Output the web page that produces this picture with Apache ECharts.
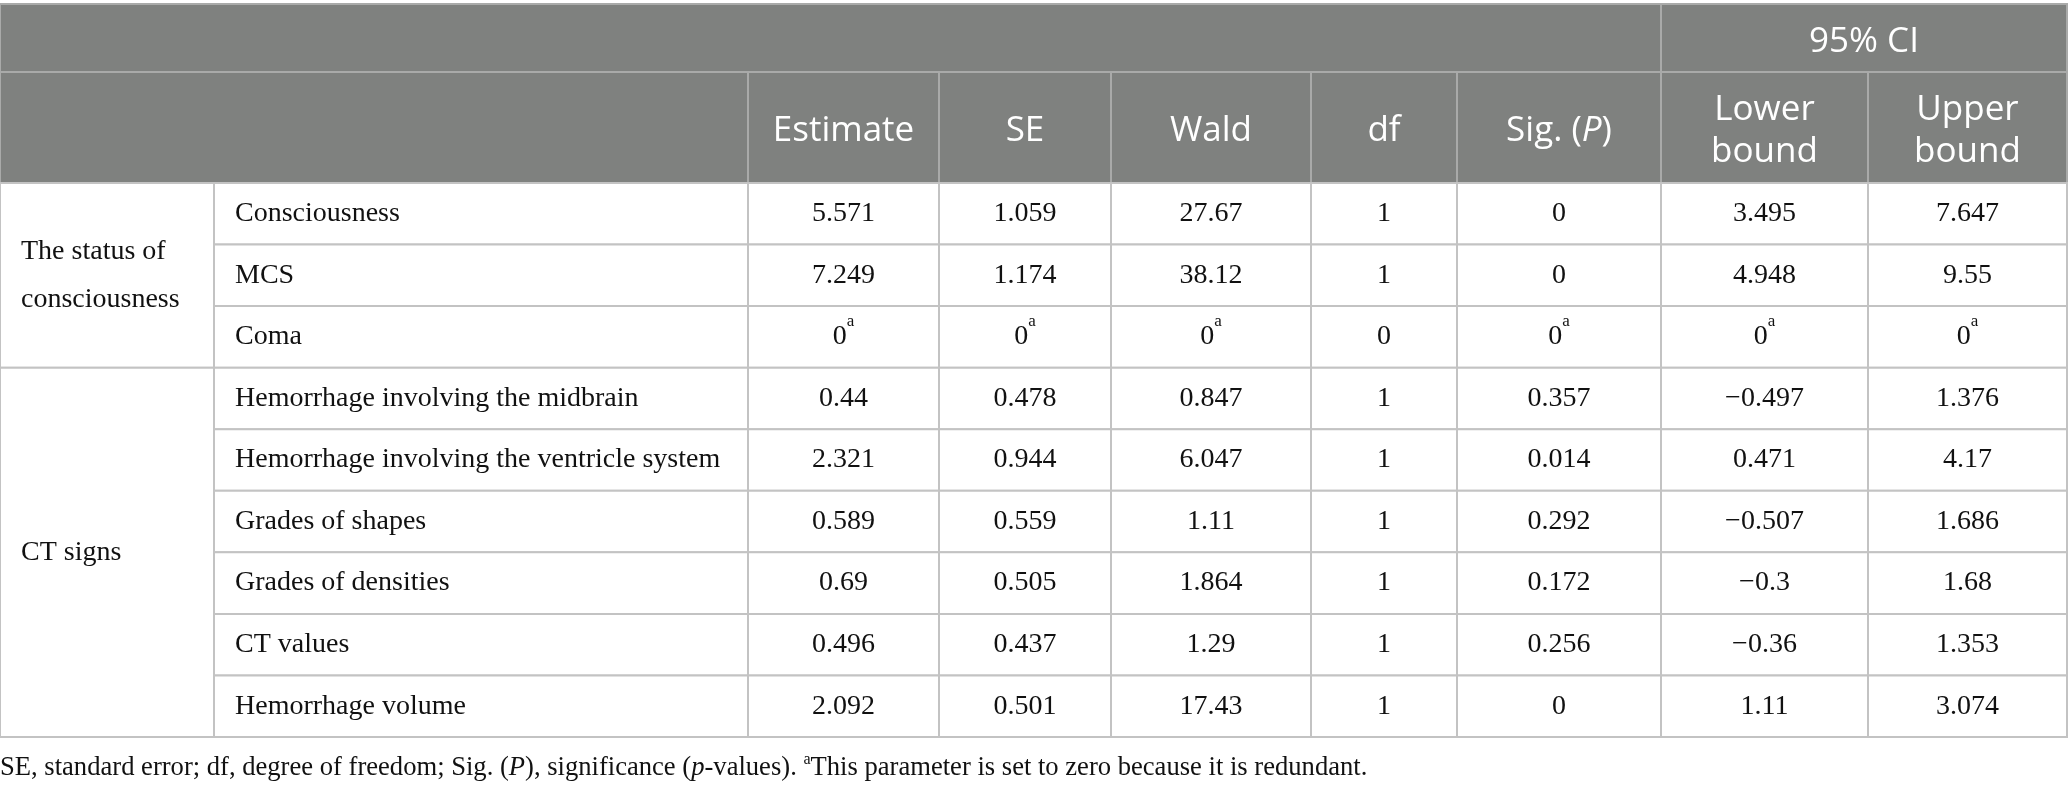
<!DOCTYPE html>
<html>
<head>
<meta charset="utf-8">
<title>Parameter estimates</title>
<script src="https://cdn.jsdelivr.net/npm/echarts@6/dist/echarts.min.js"></script>
<style>
  html, body { margin: 0; padding: 0; background: #fff; }
  #chart { width: 2068px; height: 790px; }
</style>
</head>
<body>
<div id="chart"></div>
<script>
/* Table of parameter estimates, drawn with a custom series on hidden value axes. */

// ── data ──
var columnLabels = ['Estimate', 'SE', 'Wald', 'df', 'Sig. ({hi|P})', 'Lower\nbound', 'Upper\nbound'];
var ciLabel = '95% CI';
var groupNames = ['The status of\nconsciousness', 'CT signs'];
var groupSizes = [3, 6];
var variables = [
  'Consciousness', 'MCS', 'Coma',
  'Hemorrhage involving the midbrain', 'Hemorrhage involving the ventricle system',
  'Grades of shapes', 'Grades of densities', 'CT values', 'Hemorrhage volume'
];
var estimate = [5.571, 7.249, 0, 0.44, 2.321, 0.589, 0.69, 0.496, 2.092];
var se       = [1.059, 1.174, 0, 0.478, 0.944, 0.559, 0.505, 0.437, 0.501];
var wald     = [27.67, 38.12, 0, 0.847, 6.047, 1.11, 1.864, 1.29, 17.43];
var df       = [1, 1, 0, 1, 1, 1, 1, 1, 1];
var sig      = [0, 0, 0, 0.357, 0.014, 0.292, 0.172, 0.256, 0];
var lower    = [3.495, 4.948, 0, -0.497, 0.471, -0.507, -0.3, -0.36, 1.11];
var upper    = [7.647, 9.55, 0, 1.376, 4.17, 1.686, 1.68, 1.353, 3.074];
// rows whose parameter is set to zero (footnote a); df is not marked
var redundant = [false, false, true, false, false, false, false, false, false];

// ── layout ──
var W = 2068, H = 790;
var colEdges = [0, 214, 748, 939, 1111, 1311, 1457, 1661, 1868, 2067];
var headerTop = 4, headerMid = 72, headerBottom = 183, rowHeight = 61.56;
var rowEdges = [headerTop, headerMid, headerBottom];
variables.forEach(function (v, i) { rowEdges.push(headerBottom + rowHeight * (i + 1)); });

var HEAD_BG = '#7f817f', HEAD_LINE = '#a9aaa9', BODY_LINE = '#c3c3c3', TEXT = '#111';
var SANS = '"Open Sans", "Noto Sans", sans-serif';
var SERIF = '"Liberation Serif", "DejaVu Serif", serif';

function fmt(v) {
  return v < 0 ? '\u2212' + String(-v) : String(v);
}

// ── cells: [col0, row0, col1, row1] in grid indices ──
var cells = [];
cells.push({ value: [0, 0, 7, 1], role: 'head', text: '' });
cells.push({ value: [7, 0, 9, 1], role: 'head', text: ciLabel });
cells.push({ value: [0, 1, 2, 2], role: 'head', text: '' });
columnLabels.forEach(function (label, i) {
  cells.push({ value: [i + 2, 1, i + 3, 2], role: 'head', text: label });
});
var start = 0;
groupNames.forEach(function (g, gi) {
  cells.push({ value: [0, start + 2, 1, start + 2 + groupSizes[gi]], role: 'left', text: g });
  start += groupSizes[gi];
});
var valueCols = [estimate, se, wald, df, sig, lower, upper];
variables.forEach(function (name, r) {
  cells.push({ value: [1, r + 2, 2, r + 3], role: 'left', text: name });
  valueCols.forEach(function (arr, c) {
    var txt = fmt(arr[r]);
    if (redundant[r] && arr !== df) { txt = txt + '{sup|a}'; }
    cells.push({ value: [c + 2, r + 2, c + 3, r + 3], role: 'num', text: txt });
  });
});

function renderCell(params, api) {
  var cell = cells[params.dataIndex];
  var p0 = api.coord([colEdges[api.value(0)], rowEdges[api.value(1)]]);
  var p1 = api.coord([colEdges[api.value(2)], rowEdges[api.value(3)]]);
  var x = p0[0], y = p0[1], w = p1[0] - p0[0], h = p1[1] - p0[1];
  var head = cell.role === 'head';
  var children = [{
    type: 'rect',
    shape: { x: x, y: y, width: w, height: h },
    style: { fill: head ? HEAD_BG : '#fff', stroke: head ? HEAD_LINE : BODY_LINE, lineWidth: 2 }
  }];
  if (cell.text) {
    var left = cell.role === 'left';
    children.push({
      type: 'text',
      style: {
        text: cell.text,
        x: left ? x + 21 : x + w / 2,
        y: y + h / 2 + (head ? 4 : 0),
        align: left ? 'left' : 'center',
        verticalAlign: 'middle',
        fill: head ? '#fff' : TEXT,
        fontFamily: head ? SANS : SERIF,
        fontSize: head ? 35 : 28,
        lineHeight: head ? 42 : 48,
        rich: {
          hi: { fontFamily: SANS, fontSize: 35, fontStyle: 'italic', fill: '#fff', lineHeight: 42 },
          sup: { fontFamily: SERIF, fontSize: 17, fill: TEXT, verticalAlign: 'top', lineHeight: 40 }
        }
      }
    });
  }
  return { type: 'group', children: children };
}

var chart = echarts.init(document.getElementById('chart'), null, { renderer: 'canvas' });
chart.setOption({
  animation: false,
  title: {
    left: 0,
    top: 752,
    padding: 0,
    text: '{n|SE, standard error; df, degree of freedom; Sig. (}{i|P}{n|), significance (}{i|p}{n|-values). }{s|a}{n|This parameter is set to zero because it is redundant.}',
    textStyle: {
      fontWeight: 'normal',
      rich: {
        n: { fontFamily: SERIF, fontSize: 26.6, fontWeight: 'normal', color: TEXT, lineHeight: 32 },
        i: { fontFamily: SERIF, fontSize: 26.6, fontWeight: 'normal', fontStyle: 'italic', color: TEXT, lineHeight: 32 },
        s: { fontFamily: SERIF, fontSize: 16, fontWeight: 'normal', color: TEXT, verticalAlign: 'top', lineHeight: 28 }
      }
    }
  },
  grid: { left: 0, right: 0, top: 0, bottom: 0 },
  xAxis: { type: 'value', min: 0, max: W, show: false },
  yAxis: { type: 'value', min: 0, max: H, inverse: true, show: false },
  series: [{
    type: 'custom',
    coordinateSystem: 'cartesian2d',
    renderItem: renderCell,
    clip: false,
    data: cells
  }]
});
</script>
</body>
</html>
